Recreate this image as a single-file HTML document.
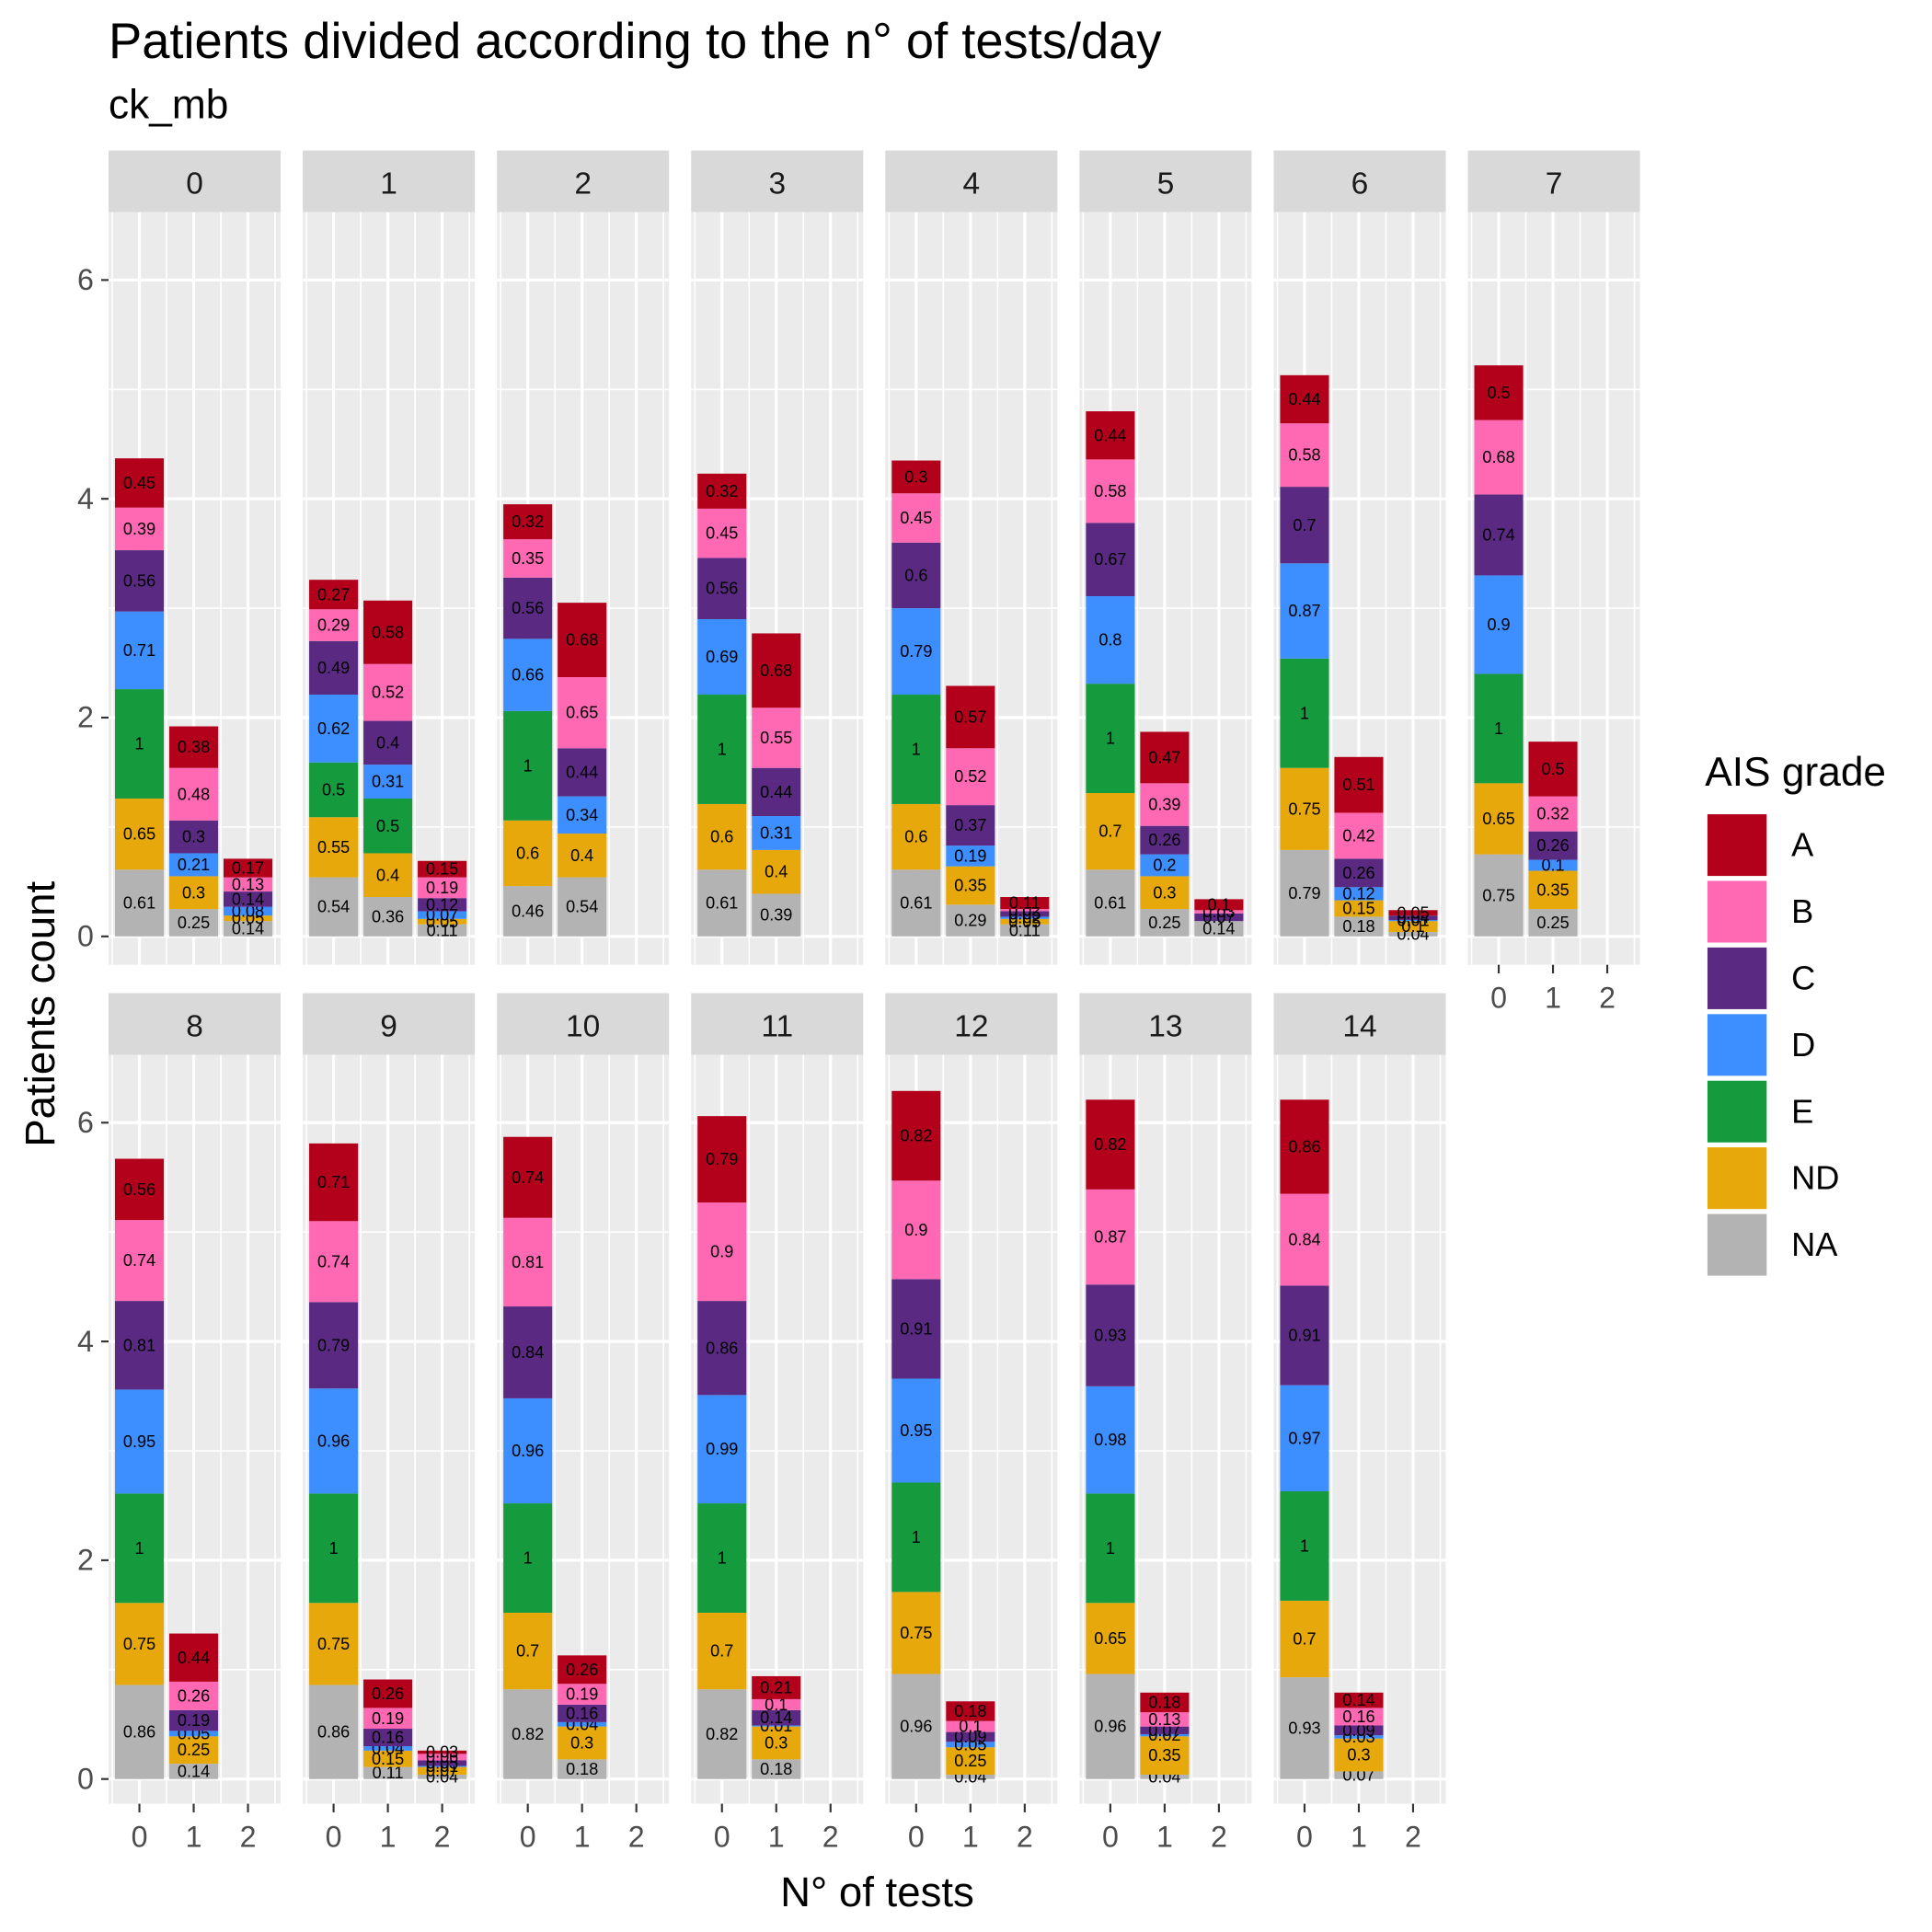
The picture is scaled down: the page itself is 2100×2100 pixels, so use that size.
<!DOCTYPE html>
<html><head><meta charset="utf-8"><style>
html,body{margin:0;padding:0;background:#fff}
svg{display:block;font-family:"Liberation Sans",Arial,sans-serif}
</style></head><body>
<svg id="chart" width="2100" height="2100" viewBox="0 0 1566 1566" xmlns="http://www.w3.org/2000/svg">
<text x="88" y="47" font-size="40.5" fill="#000">Patients divided according to the n° of tests/day</text>
<text x="88" y="96" font-size="33" fill="#000">ck_mb</text>
<text transform="translate(44,822) rotate(-90)" text-anchor="middle" font-size="34" fill="#000">Patients count</text>
<text x="711" y="1545" text-anchor="middle" font-size="34" fill="#000">N° of tests</text>
<g id="panels"></g>
<g id="legend">
<text x="1382" y="637" font-size="33" fill="#000">AIS grade</text>
</g>
</svg>
<script>
const facets=["0","1","2","3","4","5","6","7","8","9","10","11","12","13","14"];
const categories=["0","1","2"];
const grades=["NA","ND","E","D","C","B","A"];
const yTicks=[0,2,4,6];
// values per facet: [bar0, bar1, bar2], each stack [NA,ND,E,D,C,B,A]
const f0=[[0.61,0.65,1,0.71,0.56,0.39,0.45],[0.25,0.3,0,0.21,0.3,0.48,0.38],[0.14,0.05,0,0.08,0.14,0.13,0.17]];
const f1=[[0.54,0.55,0.5,0.62,0.49,0.29,0.27],[0.36,0.4,0.5,0.31,0.4,0.52,0.58],[0.11,0.05,0,0.07,0.12,0.19,0.15]];
const f2=[[0.46,0.6,1,0.66,0.56,0.35,0.32],[0.54,0.4,0,0.34,0.44,0.65,0.68],null];
const f3=[[0.61,0.6,1,0.69,0.56,0.45,0.32],[0.39,0.4,0,0.31,0.44,0.55,0.68],null];
const f4=[[0.61,0.6,1,0.79,0.6,0.45,0.3],[0.29,0.35,0,0.19,0.37,0.52,0.57],[0.11,0.05,0,0.02,0.05,0.02,0.11]];
const f5=[[0.61,0.7,1,0.8,0.67,0.58,0.44],[0.25,0.3,0,0.2,0.26,0.39,0.47],[0.14,0,0,0,0.07,0.03,0.1]];
const f6=[[0.79,0.75,1,0.87,0.7,0.58,0.44],[0.18,0.15,0,0.12,0.26,0.42,0.51],[0.04,0.1,0,0.01,0.04,0,0.05]];
const f7=[[0.75,0.65,1,0.9,0.74,0.68,0.5],[0.25,0.35,0,0.1,0.26,0.32,0.5],null];
const f8=[[0.86,0.75,1,0.95,0.81,0.74,0.56],[0.14,0.25,0,0.05,0.19,0.26,0.44],null];
const f9=[[0.86,0.75,1,0.96,0.79,0.74,0.71],[0.11,0.15,0,0.04,0.16,0.19,0.26],[0.04,0.07,0,0.01,0.05,0.06,0.03]];
const f10=[[0.82,0.7,1,0.96,0.84,0.81,0.74],[0.18,0.3,0,0.04,0.16,0.19,0.26],null];
const f11=[[0.82,0.7,1,0.99,0.86,0.9,0.79],[0.18,0.3,0,0.01,0.14,0.1,0.21],null];
const f12=[[0.96,0.75,1,0.95,0.91,0.9,0.82],[0.04,0.25,0,0.05,0.09,0.1,0.18],null];
const f13=[[0.96,0.65,1,0.98,0.93,0.87,0.82],[0.04,0.35,0,0.02,0.07,0.13,0.18],null];
const f14=[[0.93,0.7,1,0.97,0.91,0.84,0.86],[0.07,0.3,0,0.03,0.09,0.16,0.14],null];
const facetData=[f0,f1,f2,f3,f4,f5,f6,f7,f8,f9,f10,f11,f12,f13,f14];

const colors={A:"#B3001B",B:"#FF69B4",C:"#5A2A82",D:"#3D8EFF",E:"#169A3E",ND:"#E6A80B",NA:"#B3B3B3"};
const NS="http://www.w3.org/2000/svg";
function mk(tag,attrs,parent){const e=document.createElementNS(NS,tag);for(const k in attrs)e.setAttribute(k,attrs[k]);parent.appendChild(e);return e;}
const root=document.getElementById("panels");
const PW=139.5, STEP=157.4, X0=88;
const rows=[{stripTop:122,top:172,bottom:782,zero:759},{stripTop:805,top:855,bottom:1462,zero:1442}];
const unit=88.67;
const xScale=(left,c)=>left+25+44*c;

facets.forEach((f,i)=>{
  const r=rows[i<8?0:1], col=i<8?i:i-8, left=X0+col*STEP;
  const y=v=>r.zero-v*unit;
  const g=mk("g",{},root);
  
  
  const strip=mk("rect",{x:left,y:r.stripTop,width:PW,height:r.top-r.stripTop,fill:"#D9D9D9"},g);
  
  
  const st=mk("text",{x:left+PW/2,y:r.stripTop+35,"text-anchor":"middle","font-size":"25",fill:"#1A1A1A"},g);
  st.textContent=f;
  
  
  const bg=mk("rect",{x:left,y:r.top,width:PW,height:r.bottom-r.top,fill:"#EBEBEB"},g);
  
  
  [1,3,5].forEach(v=>mk("line",{x1:left,x2:left+PW,y1:y(v),y2:y(v),stroke:"#fff","stroke-width":"1.2"},g));
  [-0.5,0.5,1.5,2.5].forEach(c=>{const xx=xScale(left,c);if(xx>left&&xx<left+PW)mk("line",{x1:xx,x2:xx,y1:r.top,y2:r.bottom,stroke:"#fff","stroke-width":"1.2"},g);});
  yTicks.forEach(v=>mk("line",{x1:left,x2:left+PW,y1:y(v),y2:y(v),stroke:"#fff","stroke-width":"2.4"},g));
  categories.forEach((c,ci)=>mk("line",{x1:xScale(left,ci),x2:xScale(left,ci),y1:r.top,y2:r.bottom,stroke:"#fff","stroke-width":"2.4"},g));
  facetData[i].forEach((stack,ci)=>{
    if(!stack)return;
    let cum=0;const cx=xScale(left,ci);
    stack.forEach((v,gi)=>{
      if(v<=0)return;
      const rect=mk("rect",{x:cx-19.8,y:y(cum+v),width:39.6,height:v*unit,fill:colors[grades[gi]]},g);
      
      
      const t=mk("text",{x:cx,y:y(cum+v/2)+4.5,"text-anchor":"middle","font-size":"13.5",fill:"#000"},g);
      t.textContent=String(v);
      
      
      cum+=v;
    });
  });
  if(col===0){
    yTicks.forEach(v=>{
      mk("line",{x1:left-6,x2:left,y1:y(v),y2:y(v),stroke:"#333","stroke-width":"1.6"},g);
      const t=mk("text",{x:left-12,y:y(v)+8,"text-anchor":"end","font-size":"24",fill:"#4D4D4D"},g);
      t.textContent=String(v);
      
      
    });
  }
  if(i>=7){
    categories.forEach((c,ci)=>{
      const xx=xScale(left,ci);
      mk("line",{x1:xx,x2:xx,y1:r.bottom,y2:r.bottom+7,stroke:"#333","stroke-width":"1.6"},g);
      const t=mk("text",{x:xx,y:r.bottom+35,"text-anchor":"middle","font-size":"24",fill:"#4D4D4D"},g);
      t.textContent=c;
      
      
    });
  }
});
const lg=document.getElementById("legend");
["A","B","C","D","E","ND","NA"].forEach((k,i)=>{
  const yy=660+i*54;
  const r=mk("rect",{x:1384,y:yy,width:48,height:50,fill:colors[k]},lg);
  
  
  const t=mk("text",{x:1452,y:yy+34,"font-size":"27",fill:"#000"},lg);
  t.textContent=k;
  
  
});
</script>
</body></html>
